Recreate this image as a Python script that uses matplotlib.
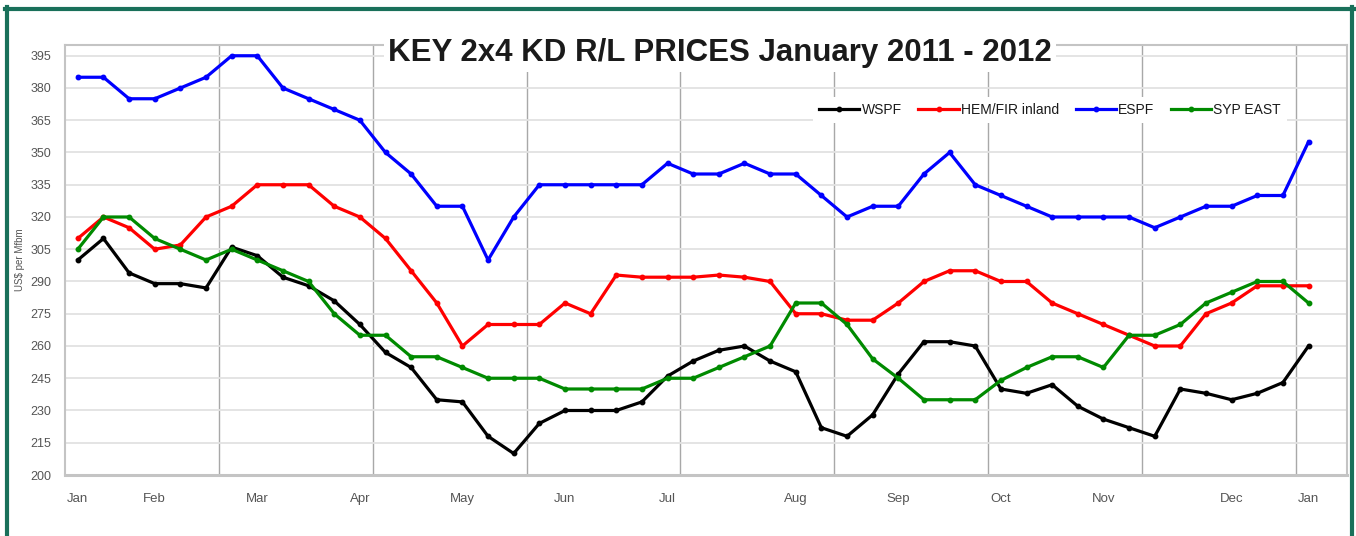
import numpy as np
import matplotlib
matplotlib.use("Agg")
import matplotlib.pyplot as plt
from matplotlib.lines import Line2D

plt.rcParams['font.family'] = ['Liberation Sans', 'DejaVu Sans']

# weekly prices, Jan 2011 - Jan 2012 (US$ per Mfbm)
wspf = [300, 310, 294, 289, 289, 287, 306, 302, 292, 288, 281, 270, 257,
        250, 235, 234, 218, 210, 224, 230, 230, 230, 234, 246, 253, 258,
        260, 253, 248, 222, 218, 228, 247, 262, 262, 260, 240, 238, 242,
        232, 226, 222, 218, 240, 238, 235, 238, 243, 260]
hemfir = [310, 320, 315, 305, 307, 320, 325, 335, 335, 335, 325, 320, 310,
          295, 280, 260, 270, 270, 270, 280, 275, 293, 292, 292, 292, 293,
          292, 290, 275, 275, 272, 272, 280, 290, 295, 295, 290, 290, 280,
          275, 270, 265, 260, 260, 275, 280, 288, 288, 288]
espf = [385, 385, 375, 375, 380, 385, 395, 395, 380, 375, 370, 365, 350,
        340, 325, 325, 300, 320, 335, 335, 335, 335, 335, 345, 340, 340,
        345, 340, 340, 330, 320, 325, 325, 340, 350, 335, 330, 325, 320,
        320, 320, 320, 315, 320, 325, 325, 330, 330, 355]
syp_east = [305, 320, 320, 310, 305, 300, 305, 300, 295, 290, 275, 265, 265,
            255, 255, 250, 245, 245, 245, 240, 240, 240, 240, 245, 245, 250,
            255, 260, 280, 280, 270, 254, 245, 235, 235, 235, 244, 250, 255,
            255, 250, 265, 265, 270, 280, 285, 290, 290, 280]

month_labels = ['Jan', 'Feb', 'Mar', 'Apr', 'May', 'Jun', 'Jul', 'Aug',
                'Sep', 'Oct', 'Nov', 'Dec', 'Jan']
month_weeks = [0, 3, 7, 11, 15, 19, 23, 28, 32, 36, 40, 45, 48]

series = [("WSPF", wspf, "black"),
          ("HEM/FIR inland", hemfir, "#ff0000"),
          ("ESPF", espf, "#0000ff"),
          ("SYP EAST", syp_east, "#008a00")]

fig = plt.figure(figsize=(13.56, 5.36), dpi=100)
ax = fig.add_axes([65/1356, 1 - 475/536, (1347 - 65)/1356, (475 - 45)/536])

weeks = np.arange(len(wspf))
for name, vals, col in series:
    ax.plot(weeks, vals, color=col, lw=2.3, marker='o', ms=3.2, label=name)

ax.set_xlim(-0.5, 49.5)
ax.set_ylim(200, 400)
ax.set_yticks(np.arange(200, 396, 15))
ax.set_xticks(month_weeks)
ax.set_xticklabels(month_labels)
ax.set_xticks(np.arange(5.5, 49, 6), minor=True)

ax.tick_params(axis='both', which='both', length=0, labelsize=9, labelcolor='#555555')
ax.tick_params(axis='x', labelsize=9.5, pad=13)
ax.tick_params(axis='y', pad=10)

ax.grid(axis='y', which='major', color='#e2e2e2', lw=1.3)
ax.grid(axis='x', which='minor', color='#a8a8a8', lw=1.0)
ax.grid(axis='x', which='major', visible=False)
ax.set_axisbelow(True)
for sp in ax.spines.values():
    sp.set_color('#c4c4c4')
    sp.set_linewidth(1.5)
ax.spines['bottom'].set_linewidth(2.2)

ax.set_ylabel("US$ per Mfbm", fontsize=7, color='#555555', labelpad=4)

fig.text(720/1356, 1 - 53/536, "KEY 2x4 KD R/L PRICES January 2011 - 2012",
         ha='center', va='center', fontsize=22.5, fontweight='bold', color='#1a1a1a',
         bbox=dict(facecolor='white', edgecolor='none', pad=3), zorder=10)

leg = ax.legend(loc='center', bbox_to_anchor=(1050/1356, 1 - 110/536),
                bbox_transform=fig.transFigure, ncol=4, fontsize=10,
                handlelength=2.9, handletextpad=0.15, columnspacing=1.2,
                frameon=True, fancybox=False, borderpad=0.45)
leg.get_frame().set_facecolor('white')
leg.get_frame().set_edgecolor('none')
leg.get_frame().set_alpha(1)
for t in leg.get_texts():
    t.set_color('#1a1a1a')

# green outer frame
fc = '#19705a'
W, H = 1356, 536
fig.add_artist(Line2D([5/W, 1354/W], [1 - 9/H, 1 - 9/H], color=fc, lw=3, transform=fig.transFigure))
fig.add_artist(Line2D([7/W, 7/W], [0, 1 - 7/H], color=fc, lw=3, transform=fig.transFigure))
fig.add_artist(Line2D([1352/W, 1352/W], [0, 1 - 7/H], color=fc, lw=3, transform=fig.transFigure))

fig.savefig("out.png", dpi=100)
